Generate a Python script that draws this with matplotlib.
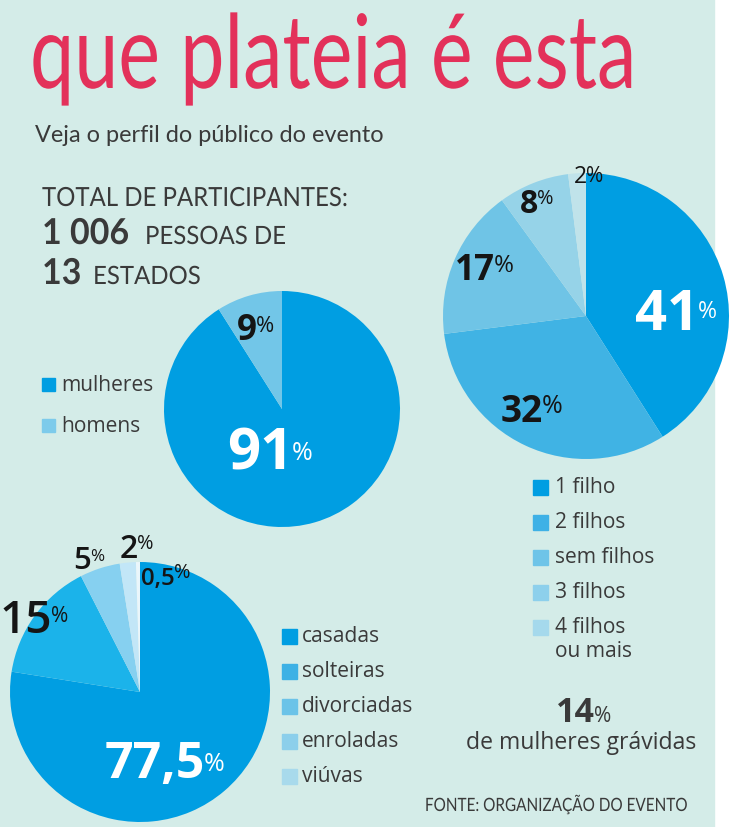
import matplotlib
matplotlib.use("Agg")
import matplotlib.pyplot as plt
from matplotlib.patches import Rectangle
from matplotlib.patheffects import AbstractPathEffect
from matplotlib.transforms import Affine2D

# ---------------- data ----------------
title = "que plateia é esta"
subtitle = "Veja o perfil do público do evento"

gender_labels = ["mulheres", "homens"]
gender_values = [91, 9]

children_labels = ["1 filho", "2 filhos", "sem filhos", "3 filhos", "4 filhos\nou mais"]
children_values = [41, 32, 17, 8, 2]

marital_labels = ["casadas", "solteiras", "divorciadas", "enroladas", "viúvas"]
marital_values = [77.5, 15, 5, 2, 0.5]
marital_text = ["77,5", "15", "5", "2", "0,5"]

total_people = "1 006"
total_states = "13"
pregnant_pct = "14"
source = "FONTE: ORGANIZAÇÃO DO EVENTO"

# ---------------- style ----------------
W, H = 732, 828
BG = "#d4ece8"
DARK = "#3a3a3a"
BLACK = "#151515"
FONT = "Open Sans"

gender_colors = ["#009ee2", "#72c6e8"]
gender_legend_colors = ["#009ee2", "#7dcbeb"]
children_colors = ["#009ee2", "#40b3e4", "#6fc4e6", "#96d3e8", "#c0e3ea"]
children_legend_colors = ["#009ee2", "#3eb1e6", "#6ec4e8", "#8dd0ec", "#a5d9ec"]
marital_colors = ["#009ee2", "#1bb3ea", "#86d0f0", "#c2e6f7", "#eaf6fb"]
marital_legend_colors = ["#009ee2", "#3db1e5", "#6bc3e8", "#8ccfeb", "#a8daec"]


class VStretch(AbstractPathEffect):
    """Stretch text glyphs vertically around a baseline (display coords)."""

    def __init__(self, sy, y0):
        super().__init__()
        self.sy = sy
        self.y0 = y0

    def draw_path(self, renderer, gc, tpath, affine, rgbFace=None):
        t = affine + Affine2D().translate(0, -self.y0).scale(1, self.sy).translate(0, self.y0)
        renderer.draw_path(gc, tpath, t, rgbFace)


fig = plt.figure(figsize=(W / 100, H / 100), dpi=100)
fig.patch.set_facecolor("white")

bg = fig.add_axes([0, 0, 1, 1], zorder=0)
bg.set_xlim(0, W)
bg.set_ylim(H, 0)
bg.axis("off")
bg.add_patch(Rectangle((0, 0), 714, H, color=BG, zorder=0))


def pie_axes(cx, cy, r, values, colors):
    ax = fig.add_axes([(cx - r) / W, 1 - (cy + r) / H, 2 * r / W, 2 * r / H], zorder=1)
    ax.pie(values, colors=colors, startangle=90, counterclock=False,
           radius=1, wedgeprops=dict(linewidth=0))
    ax.set_xlim(-1, 1)
    ax.set_ylim(-1, 1)
    ax.set_aspect("equal")
    ax.axis("off")
    ax.patch.set_alpha(0)
    return ax


pie_axes(282, 410, 118, gender_values, gender_colors)
pie_axes(586, 317, 143, children_values, children_colors)
pie_axes(140, 693, 130, marital_values, marital_colors)

base = fig.add_axes([0, 0, 1, 1], zorder=2)
base.set_xlim(0, W)
base.set_ylim(H, 0)
base.axis("off")
base.patch.set_alpha(0)


def pt(px):
    return px * 0.72


def txt(x, y, s, size, stretch=None, **kw):
    kw.setdefault("color", DARK)
    kw.setdefault("family", FONT)
    t = base.text(x, y, s, fontsize=pt(size), **kw)
    if stretch:
        t.set_path_effects([VStretch(stretch, H - y)])
    return t


def pct(x, y, num, size, psize, drop=0.0, color=BLACK, weight="bold"):
    """Number right-aligned at x (baseline y); '%' starts at x.
    drop: offset of the '%' top below the digit top, as a fraction of digit height."""
    dh = 0.714 * size
    ph = 0.714 * psize
    top = y - dh + drop * dh
    base.text(x, y, num, fontsize=pt(size), color=color, family=FONT,
              weight=weight, ha="right", va="baseline", zorder=5)
    base.text(x - 1, top + ph, "%", fontsize=pt(psize), color=color,
              family=FONT, ha="left", va="baseline", zorder=5)


# ---------------- title block ----------------
txt(30, 89, title, 79, stretch=1.3, color="#e3315a", family="Lato", va="baseline")
txt(35, 142, subtitle, 23.5, family="Lato", va="baseline")

txt(42, 207, "TOTAL DE PARTICIPANTES:", 24, stretch=1.1, family="Lato", va="baseline")
txt(42, 245, total_people, 34, stretch=1.05, family="Lato", weight="bold", va="baseline")
txt(145, 245, "PESSOAS DE", 24, stretch=1.05, family="Lato", va="baseline")
txt(42, 285, total_states, 34, stretch=1.05, family="Lato", weight="bold", va="baseline")
txt(93, 285, "ESTADOS", 24, stretch=1.05, family="Lato", va="baseline")

# ---------------- pie 1: gender ----------------
pct(293, 470, str(gender_values[0]), 58, 25, drop=0.33, color="white")
pct(257, 340, str(gender_values[1]), 35, 22, drop=0.05)
for i, (lab, col) in enumerate(zip(gender_labels, gender_legend_colors)):
    y = 386 + i * 41
    base.add_patch(Rectangle((42, y - 7), 13, 13, color=col, zorder=3))
    txt(61, y, lab, 21, va="center")

# ---------------- pie 2: children ----------------
pct(699, 330, str(children_values[0]), 56, 23, drop=0.3, color="white")
pct(543, 422, str(children_values[1]), 37, 25)
pct(495, 280, str(children_values[2]), 35, 24)
pct(538, 213, str(children_values[3]), 32, 20)
pct(587, 183, str(children_values[4]), 23, 21, weight="normal")
for i, (lab, col) in enumerate(zip(children_labels, children_legend_colors)):
    y = 488 + i * 35
    base.add_patch(Rectangle((533, y - 7), 15, 15, color=col, zorder=3))
    txt(555, y - 11, lab, 21, va="top", linespacing=1.2)

# 14% de mulheres grávidas
pct(595, 722, pregnant_pct, 34, 21, drop=0.4, color=DARK)
txt(581, 743, "de mulheres grávidas", 23, ha="center", va="center")

# ---------------- pie 3: marital ----------------
pct(205, 778, marital_text[0], 50, 25, drop=0.3, color="white")
pct(52, 633, marital_text[1], 46, 21, drop=0.2, weight="semibold")
pct(91, 569, marital_text[2], 31, 17, drop=0.1, weight="semibold")
pct(138, 558, marital_text[3], 32, 20, weight="semibold")
pct(175, 585, marital_text[4], 24, 20, drop=-0.25, weight="semibold")
for i, (lab, col) in enumerate(zip(marital_labels, marital_legend_colors)):
    y = 637 + i * 35
    base.add_patch(Rectangle((282, y - 7), 15, 15, color=col, zorder=3))
    txt(302, y, lab, 21, va="center")

txt(556, 812, source, 15.3, stretch=1.2, ha="center", va="baseline", family="Lato")

fig.savefig("out.png", dpi=100, facecolor=fig.get_facecolor())
